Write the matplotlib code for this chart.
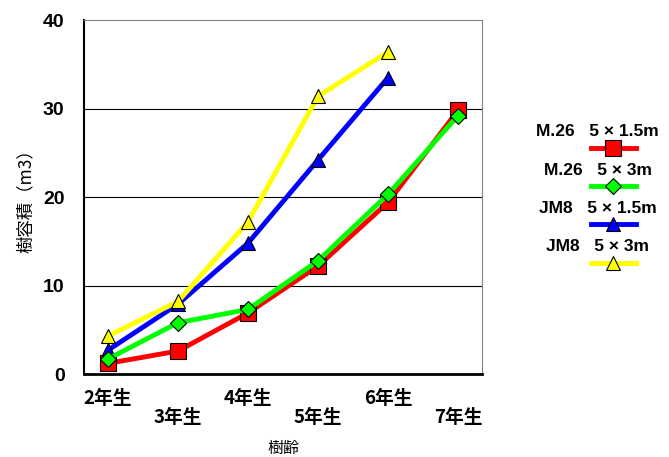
import matplotlib
matplotlib.use('Agg')
import matplotlib.pyplot as plt
from matplotlib.lines import Line2D

plt.rcParams['font.family'] = ['Liberation Sans', 'Noto Sans CJK JP', 'DejaVu Sans']

# ─────────────────────────────────────────────
# DATA
# ─────────────────────────────────────────────
ages = ['2年生', '3年生', '4年生', '5年生', '6年生', '7年生']
m26_15 = [1.2, 2.6, 6.9, 12.2, 19.4, 29.8]
m26_3 = [1.7, 5.8, 7.3, 12.8, 20.3, 29.2]
jm8_15 = [2.7, 7.9, 14.8, 24.2, 33.5]
jm8_3 = [4.3, 8.2, 17.2, 31.4, 36.4]
series_names = ['M.26   5 × 1.5m', 'M.26   5 × 3m', 'JM8   5 × 1.5m', 'JM8   5 × 3m']
y_ticks = [0, 10, 20, 30, 40]

styles = [
    dict(color='#ff0000', marker='s', ms=11.5, z=4),
    dict(color='#00ff00', marker='D', ms=8, z=5),
    dict(color='#0000ff', marker='^', ms=10.5, z=2),
    dict(color='#ffff00', marker='^', ms=10.5, z=3),
]
values = [m26_15, m26_3, jm8_15, jm8_3]

fig = plt.figure(figsize=(6.69, 4.57), dpi=100)
ax = fig.add_axes([0.1256, 0.1816, 0.5949, 0.7744])

for vals, st in zip(values, styles):
    x = list(range(len(vals)))
    ax.plot(x, vals, color=st['color'], lw=3.5, marker=st['marker'],
            ms=st['ms'], mfc=st['color'], mec='black', mew=0.8,
            zorder=st['z'], solid_joinstyle='round')

ax.set_xlim(-0.343, len(ages) - 1 + 0.343)
ax.set_ylim(0, 40)
ax.set_yticks(y_ticks)
ax.set_yticklabels([str(v) for v in y_ticks], fontsize=14, fontweight='bold')
ax.set_xticks(range(len(ages)))
ax.set_xticklabels([a if i % 2 == 0 else '\n' + a for i, a in enumerate(ages)],
                   fontsize=13.5, fontweight='bold', family=['Noto Sans CJK JP'],
                   linespacing=1.0)
ax.tick_params(axis='y', length=0, pad=14)
ax.tick_params(axis='x', length=0, pad=11)

for v in y_ticks[1:-1]:
    ax.axhline(v, color='black', lw=0.8, zorder=1)
ax.spines['left'].set_linewidth(1.5)
ax.spines['bottom'].set_linewidth(2)
ax.spines['top'].set_color('#808080')
ax.spines['right'].set_color('#808080')

ax.set_ylabel('樹容積（m3）', fontsize=12.5, family=['Noto Sans CJK JP'], labelpad=6)
ax.set_xlabel('樹齢', fontsize=11.5, family=['Noto Sans CJK JP'], labelpad=9)

# ─────────────────────────────────────────────
# LEGEND (text above each sample line)
# ─────────────────────────────────────────────
lg = fig.add_axes([0.76, 0.35, 0.24, 0.40])
lg.set_xlim(0, 1)
lg.set_ylim(0, 1)
lg.axis('off')
for i, (name, st) in enumerate(zip(series_names, styles)):
    top = 0.903 - i * 0.209
    lg.text(0.557, top, name, ha='center', va='center', fontsize=12.5,
            fontweight='bold')
    lg.add_line(Line2D([0.514, 0.794], [top - 0.088] * 2, color=st['color'],
                       lw=3.5))
    lg.plot([0.654], [top - 0.088], marker=st['marker'], ms=st['ms'],
            mfc=st['color'], mec='black', mew=0.8, ls='none')

fig.savefig('out.png', dpi=100)
